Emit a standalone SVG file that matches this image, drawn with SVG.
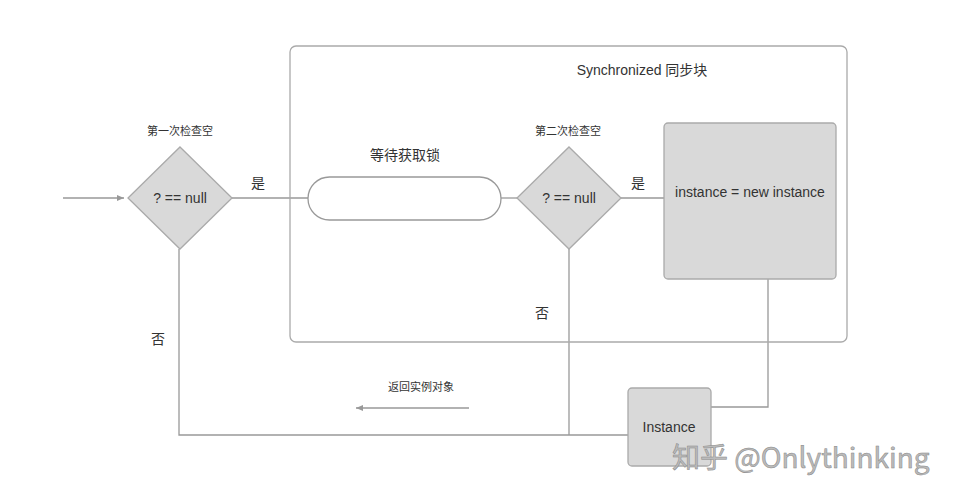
<svg xmlns="http://www.w3.org/2000/svg" width="960" height="500" viewBox="0 0 960 500">
<style>
.ln{stroke:#999;stroke-width:1.3;fill:none}
.sh{fill:#d9d9d9;stroke:#aaa;stroke-width:1.3}
.t{font-family:"Liberation Sans","Noto Sans CJK SC",sans-serif;fill:#333;text-anchor:middle}
</style>
<defs><marker id="ah" markerWidth="8" markerHeight="8" refX="7" refY="4" orient="auto" markerUnits="userSpaceOnUse"><path d="M0,1 L7,4 L0,7 Z" fill="#999"/></marker></defs>
<rect width="960" height="500" fill="#fff"/>
<g id="connectors">
<line class="ln" x1="63" y1="198" x2="124" y2="198" marker-end="url(#ah)"/>
<line class="ln" x1="232" y1="198" x2="308" y2="198"/>
<line class="ln" x1="501" y1="198" x2="518" y2="198"/>
<line class="ln" x1="621" y1="198" x2="664" y2="198"/>
<polyline class="ln" points="768,279 768,407 711,407"/>
<line class="ln" x1="569" y1="249" x2="569" y2="435"/>
<polyline class="ln" points="628,435 179,435 179,249"/>
<line class="ln" x1="469" y1="408" x2="356" y2="408" marker-end="url(#ah)"/>
<text class="t" x="258" y="188" font-size="14">是</text>
<text class="t" x="638" y="188" font-size="14">是</text>
<text class="t" x="542" y="318" font-size="14">否</text>
<text class="t" x="158" y="344" font-size="14">否</text>
<text class="t" x="421" y="391" font-size="11">返回实例对象</text>
</g>
<g id="sync"><rect x="290" y="46" width="557" height="296" rx="6" fill="none" stroke="#aaa" stroke-width="1.3"/>
<text class="t" x="642" y="75" font-size="14">Synchronized 同步块</text></g>
<g id="check1"><polygon class="sh" points="180,147 232,198 180,249 128,198"/>
<text class="t" x="180" y="203" font-size="14">? == null</text>
<text class="t" x="180" y="135" font-size="11">第一次检查空</text></g>
<g id="wait"><rect x="308" y="177" width="193" height="43" rx="21.5" fill="#fff" stroke="#999" stroke-width="1.3"/>
<text class="t" x="405" y="160" font-size="14">等待获取锁</text></g>
<g id="check2"><polygon class="sh" points="569,147 621,198 569,249 517,198"/>
<text class="t" x="569" y="203" font-size="14">? == null</text>
<text class="t" x="568" y="135" font-size="11">第二次检查空</text></g>
<g id="create"><rect class="sh" x="664" y="123" width="172" height="156" rx="4"/>
<text class="t" x="750" y="197" font-size="14">instance = new instance</text></g>
<g id="instance"><rect class="sh" x="628" y="388" width="83" height="78" rx="4"/>
<text class="t" x="669" y="432" font-size="14">Instance</text></g>
<text x="672" y="468" font-family="'Noto Sans CJK SC','Liberation Sans',sans-serif" font-size="28" fill="#bbb" stroke="#888" stroke-width="0.5">知乎 @Onlythinking</text>
</svg>
